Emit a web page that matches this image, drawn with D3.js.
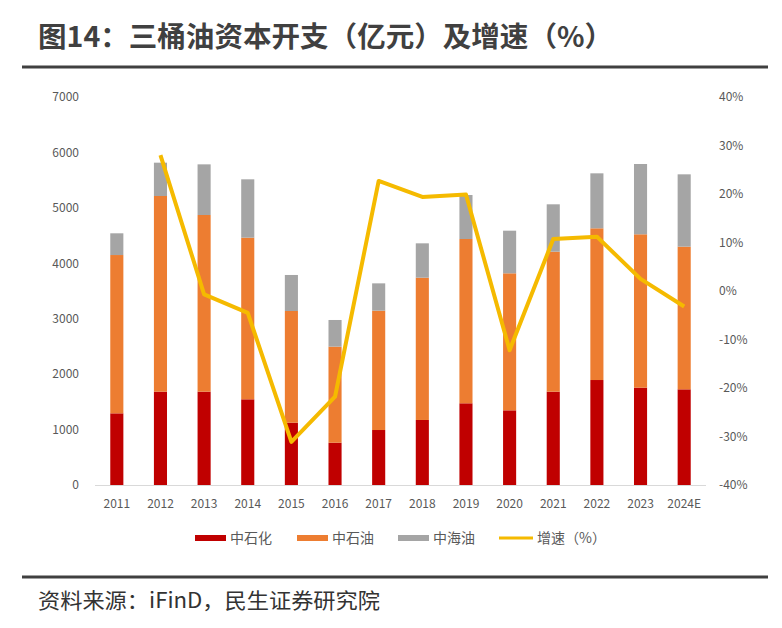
<!DOCTYPE html>
<html><head><meta charset="utf-8">
<script src="https://cdn.jsdelivr.net/npm/d3@7/dist/d3.min.js"></script>
<style>
body{margin:0;background:#fff;}
text{font-family:"Noto Sans CJK SC","Noto Sans",sans-serif;}
</style></head>
<body><svg id="c" width="782" height="628"></svg>
<script>
const categories = ["2011","2012","2013","2014","2015","2016","2017","2018","2019","2020","2021","2022","2023","2024E"];
const sinopec = [1293,1684,1684,1546,1124,763,992,1173,1474,1347,1684,1894,1756,1726];
const petrochina = [2856,3530,3187,2916,2015,1733,2153,2567,2964,2472,2525,2737,2767,2574];
const cnooc = [392,601,914,1053,650,481,493,620,794,769,855,992,1268,1305];
const growth = [null,28.0,-0.7,-4.5,-31.1,-21.8,22.7,19.4,19.9,-12.2,10.7,11.2,2.5,-3.2];
const leftTicks = [0,1000,2000,3000,4000,5000,6000,7000];
const rightTicks = [-40,-30,-20,-10,0,10,20,30,40];
const seriesNames = ["中石化","中石油","中海油","增速（%）"];
const colors = ["#C00000","#ED7D31","#A5A5A5","#F5BA00"];

const svg = d3.select("#c");
const x = d3.scaleBand().domain(categories).range([95,706]).paddingInner(0.7).paddingOuter(0.35);
const y = d3.scaleLinear().domain([0,7000]).range([485,97]);
const y2 = d3.scaleLinear().domain([-40,40]).range([485,97]);

// title
svg.append("text").attr("x",38).attr("y",47).attr("font-size",28).attr("font-weight","bold")
  .attr("fill","#404040").attr("textLength",575).attr("lengthAdjust","spacingAndGlyphs")
  .text("图14：三桶油资本开支（亿元）及增速（%）");
svg.append("line").attr("x1",22).attr("x2",768).attr("y1",67).attr("y2",67).attr("stroke","#404040").attr("stroke-width",3);
svg.append("line").attr("x1",22).attr("x2",768).attr("y1",577).attr("y2",577).attr("stroke","#404040").attr("stroke-width",3);
svg.append("text").attr("x",38).attr("y",608).attr("font-size",21).attr("fill","#333")
  .attr("textLength",342).attr("lengthAdjust","spacingAndGlyphs").text("资料来源：iFinD，民生证券研究院");

// bars
const data = categories.map((c,i)=>({cat:c,a:sinopec[i],b:petrochina[i],c2:cnooc[i]}));
const stack = d3.stack().keys(["a","b","c2"])(data);
stack.forEach((s,k)=>{
  svg.append("g").selectAll("rect").data(s).join("rect")
    .attr("x",d=>x(d.data.cat)).attr("width",x.bandwidth())
    .attr("y",d=>y(d[1])).attr("height",d=>y(d[0])-y(d[1]))
    .attr("fill",colors[k]);
});

// axes
const tickFont = "Open Sans, Noto Sans, sans-serif";
const gl = svg.append("g").attr("transform","translate(79,0)")
  .call(d3.axisLeft(y).tickValues(leftTicks).tickSize(0).tickPadding(0).tickFormat(d3.format("d")));
gl.select(".domain").remove();
gl.selectAll("text").attr("font-size",12).attr("fill","#595959").attr("font-family",tickFont);
const gr = svg.append("g").attr("transform","translate(719,0)")
  .call(d3.axisRight(y2).tickValues(rightTicks).tickSize(0).tickPadding(0).tickFormat(d=>d+"%"));
gr.select(".domain").remove();
gr.selectAll("text").attr("font-size",12).attr("fill","#595959").attr("font-family",tickFont);
svg.append("line").attr("x1",95).attr("x2",706).attr("y1",485.5).attr("y2",485.5).attr("stroke","#d9d9d9");
const gx = svg.append("g").attr("transform","translate(0,485)")
  .call(d3.axisBottom(x).tickSize(0).tickPadding(14));
gx.select(".domain").remove();
gx.selectAll("text").attr("font-size",12).attr("fill","#595959").attr("font-family",tickFont);

// line
const line = d3.line().defined(d=>d.v!==null).x(d=>x(d.cat)+x.bandwidth()/2).y(d=>y2(d.v));
svg.append("path").datum(categories.map((c,i)=>({cat:c,v:growth[i]})))
  .attr("d",line).attr("fill","none").attr("stroke",colors[3]).attr("stroke-width",4).attr("stroke-linejoin","round");

// legend
const lx = [195,297,398,499];
seriesNames.forEach((n,i)=>{
  if(i<3) svg.append("rect").attr("x",lx[i]).attr("y",535).attr("width",31).attr("height",6).attr("fill",colors[i]);
  else svg.append("rect").attr("x",lx[i]).attr("y",536.5).attr("width",34).attr("height",3).attr("fill",colors[i]);
  svg.append("text").attr("x",lx[i]+(i<3?35:38)).attr("y",543).attr("font-size",14).attr("fill","#595959").text(n);
});
</script></body></html>
